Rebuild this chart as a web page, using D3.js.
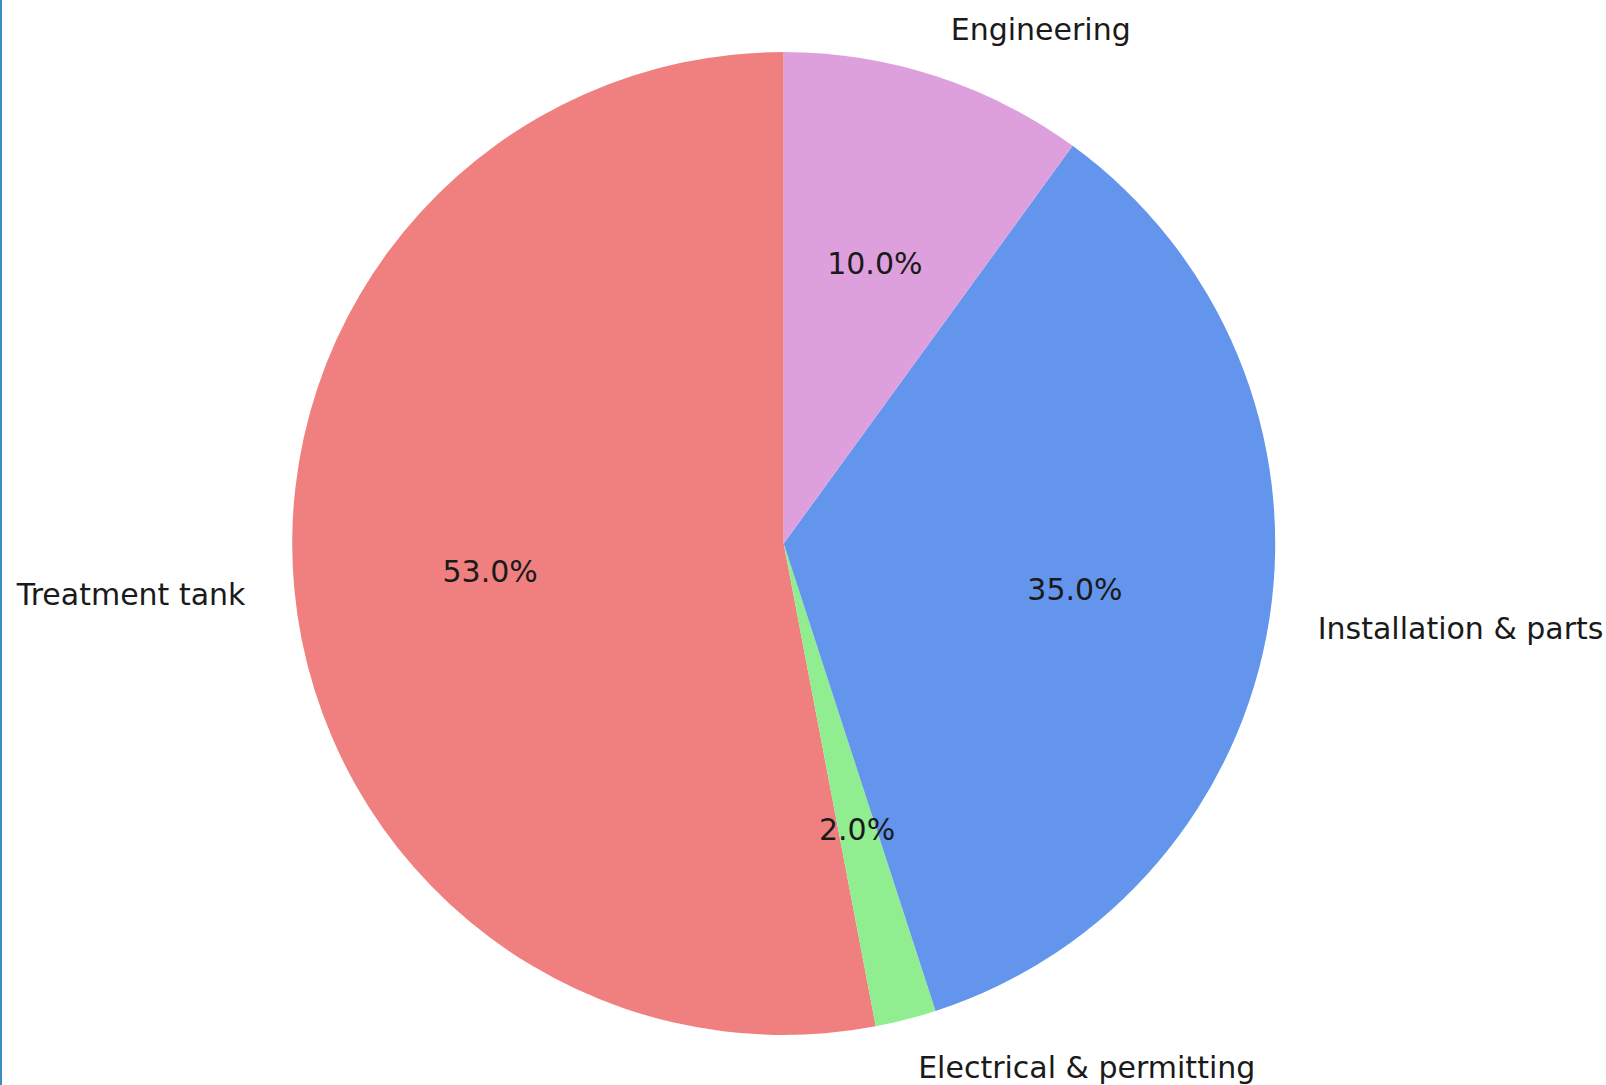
<!DOCTYPE html>
<html>
<head>
<meta charset="utf-8">
<script src="https://cdn.jsdelivr.net/npm/d3@7"></script>
<style>
  html, body { margin: 0; padding: 0; background: #fff; }
  svg { display: block; }
</style>
</head>
<body>
<svg id="chart" width="1606" height="1085"></svg>
<script>
// Cost breakdown shares (percent), drawn counter-clockwise from 12 o'clock
const categories = ["Treatment tank", "Electrical & permitting", "Installation & parts", "Engineering"];
const shares = [53.0, 2.0, 35.0, 10.0];
const colors = ["#F08080", "#90EE90", "#6495ED", "#DDA0DD"];

const W = 1606, H = 1085;
const cx = 783.7, cy = 543.5, R = 491.5;
const fontFamily = "'DejaVu Sans', sans-serif";
const fontSize = "30px";

const svg = d3.select("#chart");

// thin frame line on the left edge
svg.append("line")
  .attr("x1", 1).attr("x2", 1).attr("y1", 0).attr("y2", H)
  .attr("stroke", "#3a8fc0").attr("stroke-width", 2);

const data = categories.map((c, i) => ({ label: c, value: shares[i], color: colors[i] }));

// d3 angles run clockwise from 12 o'clock; negate to go counter-clockwise
const total = d3.sum(shares);
const angle = d3.scaleLinear().domain([0, total]).range([0, -2 * Math.PI]);
let acc = 0;
const slices = data.map(d => {
  const s = { ...d, startAngle: angle(acc + d.value), endAngle: angle(acc) };
  acc += d.value;
  return s;
});

const arc = d3.arc().innerRadius(0).outerRadius(R);
const g = svg.append("g").attr("transform", `translate(${cx},${cy})`);

g.selectAll("path.slice")
  .data(slices)
  .join("path")
  .attr("class", "slice")
  .attr("d", arc)
  .attr("fill", d => d.color);

function pos(d, k) {
  const mid = (d.startAngle + d.endAngle) / 2;
  return [k * R * Math.sin(mid), -k * R * Math.cos(mid)];
}

// category labels outside the pie
g.selectAll("text.cat")
  .data(slices)
  .join("text")
  .attr("class", "cat")
  .attr("x", d => pos(d, 1.1)[0])
  .attr("y", d => pos(d, 1.1)[1])
  .attr("text-anchor", d => pos(d, 1.1)[0] >= 0 ? "start" : "end")
  .attr("dominant-baseline", "central")
  .attr("font-family", fontFamily)
  .attr("font-size", fontSize)
  .attr("fill", "#1a1a1a")
  .text(d => d.label);

// percentage labels inside the slices
g.selectAll("text.pct")
  .data(slices)
  .join("text")
  .attr("class", "pct")
  .attr("x", d => pos(d, 0.6)[0])
  .attr("y", d => pos(d, 0.6)[1])
  .attr("text-anchor", "middle")
  .attr("dominant-baseline", "central")
  .attr("font-family", fontFamily)
  .attr("font-size", fontSize)
  .attr("fill", "#1a1a1a")
  .text(d => d3.format(".1f")(d.value) + "%");
</script>
</body>
</html>
